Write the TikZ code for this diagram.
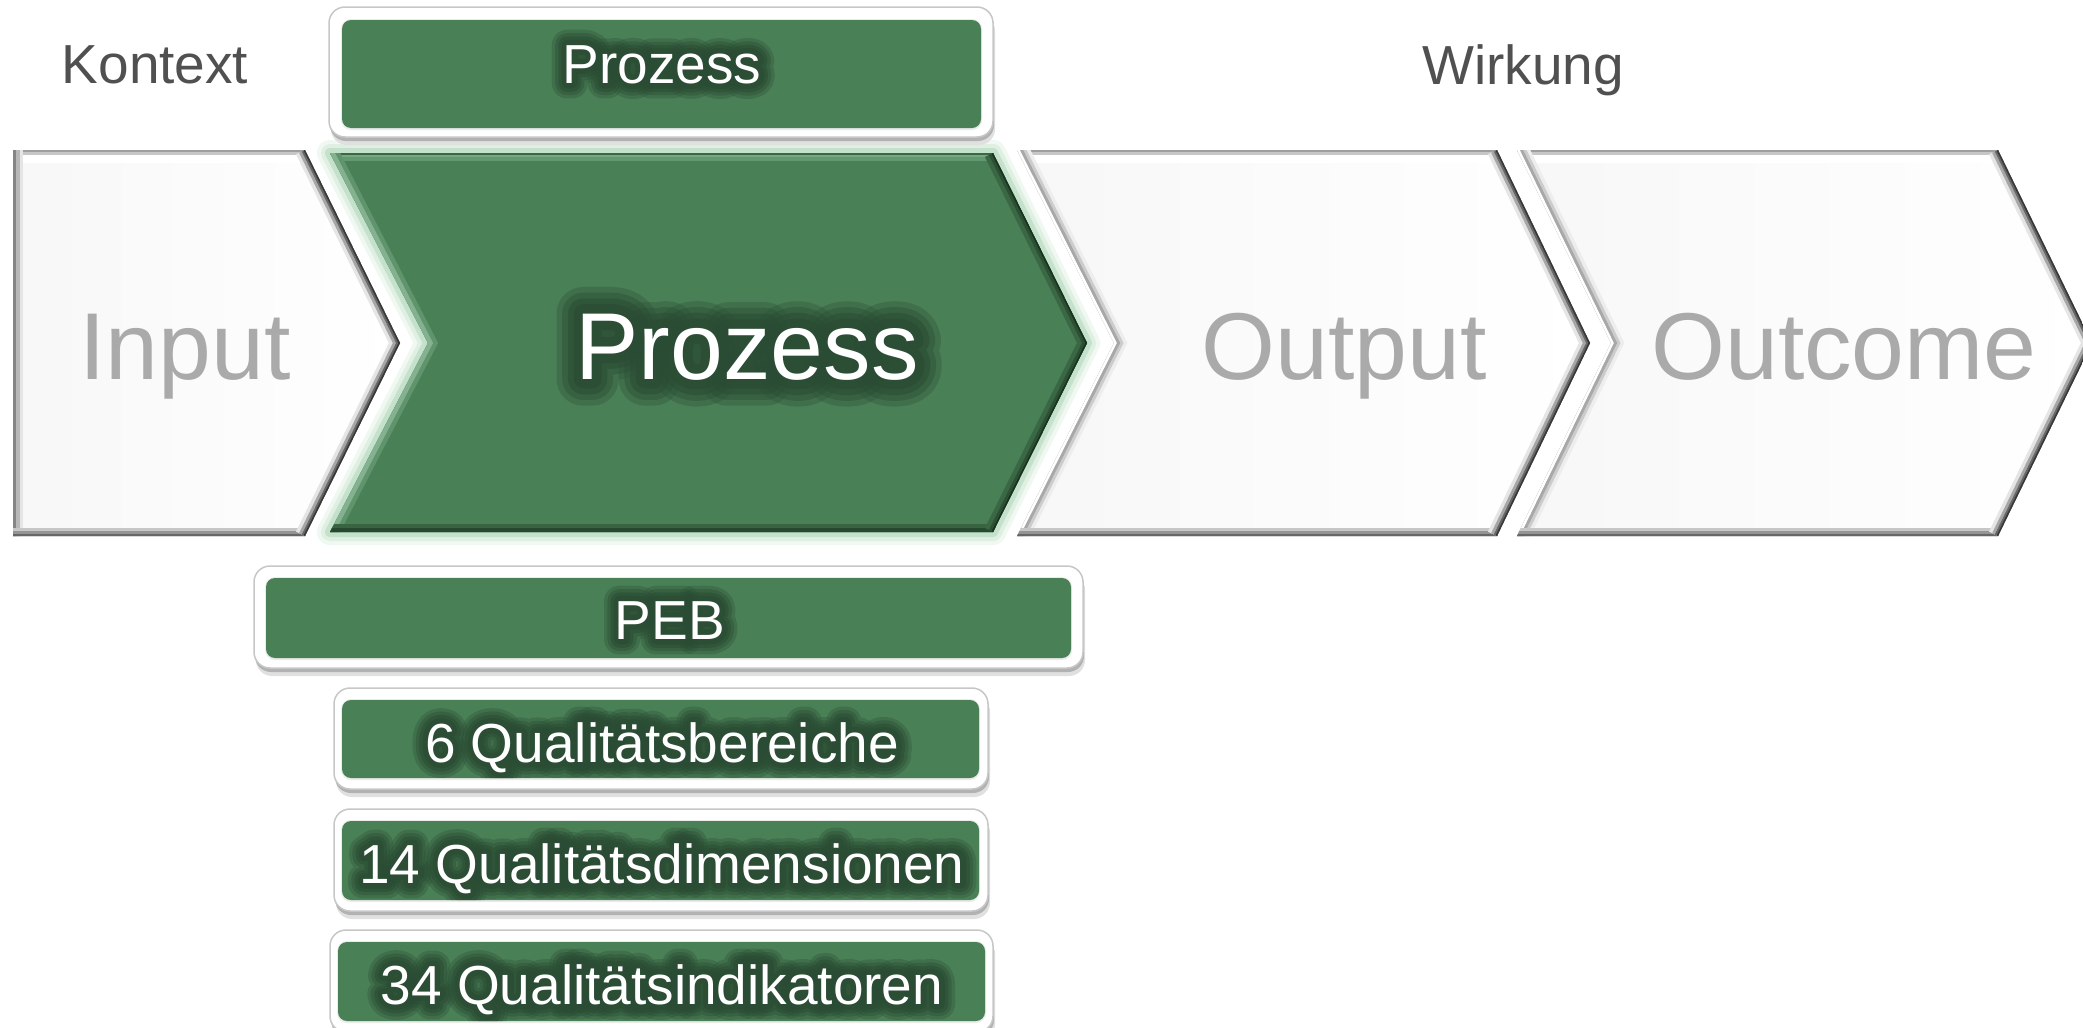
\documentclass[tikz,border=0pt]{standalone}
\usepackage{fontspec}
\setmainfont{Liberation Sans}
\newfontfamily\glowa[FakeBold=56]{Liberation Sans}
\newfontfamily\glowb[FakeBold=44]{Liberation Sans}
\newfontfamily\glowc[FakeBold=32]{Liberation Sans}
\newfontfamily\glowd[FakeBold=20]{Liberation Sans}
\usetikzlibrary{calc}
\definecolor{pgreen}{RGB}{74,128,86}
\definecolor{dgreen}{RGB}{38,72,46}
\definecolor{glowcol}{RGB}{42,76,52}
\definecolor{lgreen}{RGB}{118,168,130}
\definecolor{halo}{RGB}{196,226,203}
\definecolor{ktext}{RGB}{80,80,80}
\definecolor{ftext}{RGB}{170,170,170}
\tikzset{
  smallf/.style={font=\fontsize{55}{60}\selectfont},
  bigf/.style={font=\fontsize{95}{100}\selectfont},
  lbl/.style={anchor=base, inner sep=0pt},
  framebox/.style={fill=white, draw=black!22, line width=1.5pt, rounded corners=16pt},
  greenbox/.style={fill=pgreen, rounded corners=9pt},
  chevfill/.style={left color=black!3, right color=white},
}
\newcommand\roundj{\special{pdf:literal direct 1 j 1 J}}
% name, x, baseline, font size, text
\newcommand\glowlabel[5]{%
  \node[lbl, text=glowcol, opacity=0.3, font=\glowa\fontsize{#4}{#4}\selectfont] at (#2,#3) {\roundj#5};
  \node[lbl, text=glowcol, opacity=0.4, font=\glowb\fontsize{#4}{#4}\selectfont] at (#2,#3) {\roundj#5};
  \node[lbl, text=glowcol, opacity=0.5, font=\glowc\fontsize{#4}{#4}\selectfont] at (#2,#3) {\roundj#5};
  \node[lbl, text=glowcol, opacity=0.7, font=\glowd\fontsize{#4}{#4}\selectfont] at (#2,#3) {\roundj#5};
  \node[lbl, text=white, font=\fontsize{#4}{#4}\selectfont] (#1) at (#2,#3) {#5};
}
% outer x1 y1 x2 y2, inner x1 y1 x2 y2, then name, text x, baseline, text
\newcommand\framed[8]{%
  \fill[black!12, rounded corners=16pt] (#1+2,#2+8) rectangle (#3+2,#4+8);
  \fill[black!30, rounded corners=16pt] (#1+1,#2+4) rectangle (#3+1,#4+4);
  \path[framebox] (#1,#2) rectangle (#3,#4);
  \fill[black!8, rounded corners=10pt] (#5-1,#6-1) rectangle (#7+1,#8+2);
  \path[greenbox] (#5,#6) rectangle (#7,#8);
  \def\ix{#5}\def\iy{#6}\def\iX{#7}\def\iY{#8}%
  \framedtext
}
\newcommand\framedtext[4]{%
  \begin{scope}
    \clip[rounded corners=9pt] (\ix,\iy) rectangle (\iX,\iY);
    \glowlabel{#1}{#2}{#3}{55}{#4}
  \end{scope}
}
\newcommand\whitechev[6]{% x_left, x_notch, x_right, x_tip, isfirst(0/1), name
  \ifnum#5=1
    \def\chevpath{(#1,150) -- (#3,150) -- (#4,343) -- (#3,536) -- (#1,536) -- cycle}
  \else
    \def\chevpath{(#1,150) -- (#3,150) -- (#4,343) -- (#3,536) -- (#1,536) -- (#2,343) -- cycle}
  \fi
  \shade[chevfill] \chevpath;
  \begin{scope}
    \clip \chevpath;
    \draw[line width=26pt, white] (#1-20,150) -- (#3+20,150);
    \draw[line width=9pt, black!22] (#1-20,150) -- (#3+20,150);
    \draw[line width=4pt, black!38] (#1-20,150) -- (#3+20,150);
    \ifnum#5=1
      \draw[line width=20pt, black!10] (#1,140) -- (#1,546);
      \draw[line width=13pt, black!28] (#1,140) -- (#1,546);
      \draw[line width=6pt, black!48] (#1,140) -- (#1,546);
    \else
      \draw[line width=24pt, black!7] (#1,150) -- (#2,343) -- (#1,536);
      \draw[line width=17pt, black!20] (#1,150) -- (#2,343) -- (#1,536);
      \draw[line width=11pt, black!34] (#1,150) -- (#2,343) -- (#1,536);
      \draw[line width=5pt, white] (#1,150) -- (#2,343) -- (#1,536);
    \fi
    \draw[line width=16pt, black!22] (#1-20,536) -- (#3+20,536);
    \draw[line width=10pt, black!42] (#1-20,536) -- (#3+20,536);
    \draw[line width=4pt, black!60] (#1-20,536) -- (#3+20,536);
    \draw[line width=20pt, black!10] (#3,150) -- (#4,343) -- (#3,536);
    \draw[line width=13pt, black!35] (#3,150) -- (#4,343) -- (#3,536);
    \draw[line width=7pt, black!60] (#3,150) -- (#4,343) -- (#3,536);
    \draw[line width=3pt, black!78] (#3,150) -- (#4,343) -- (#3,536);
  \end{scope}
  \coordinate (#6) at ($(#2,343)!0.5!(#4,343)$);
}
\begin{document}
\begin{tikzpicture}[x=1pt,y=-1pt]
\path[use as bounding box] (0,0) rectangle (2083,1028);
\clip (0,0) rectangle (2083,1028);
\fill[white] (0,0) rectangle (2083,1028);

% ---------- white chevrons ----------
\whitechev{13}{13}{305}{400}{1}{inputchev}
\whitechev{1017}{1114}{1497}{1590}{0}{outputchev}
\whitechev{1517}{1611}{1998}{2092}{0}{outcomechev}

% ---------- green chevron ----------
\def\gpath{(330,153) -- (993,153) -- (1087,343) -- (993,532) -- (330,532) -- (428,343) -- cycle}
\draw[line width=26pt, halo!25!white, line join=round] \gpath;
\draw[line width=18pt, halo!55!white, line join=round] \gpath;
\draw[line width=10pt, halo, line join=round] \gpath;
\fill[pgreen] \gpath;
\begin{scope}
  \clip \gpath;
  \draw[line width=16pt, lgreen!60!pgreen] (310,153) -- (1010,153);
  \draw[line width=8pt, lgreen] (310,153) -- (1010,153);
  \draw[line width=3pt, pgreen!80!black] (310,153) -- (1010,153);
  \draw[line width=18pt, lgreen!50!pgreen] (330,153) -- (428,343) -- (330,532);
  \draw[line width=9pt, lgreen!90!white] (330,153) -- (428,343) -- (330,532);
  \draw[line width=16pt, dgreen!50!pgreen] (310,532) -- (1010,532);
  \draw[line width=8pt, dgreen] (310,532) -- (1010,532);
  \draw[line width=18pt, dgreen!45!pgreen] (993,153) -- (1087,343) -- (993,532);
  \draw[line width=9pt, dgreen!85!pgreen] (993,153) -- (1087,343) -- (993,532);
  \draw[line width=3pt, dgreen!70!black] (993,153) -- (1087,343) -- (993,532);
\end{scope}
\coordinate (prozchev) at (747,343);

% ---------- green boxes with labels ----------
\framed{329}{7}{993}{137}{342}{20}{981}{128}{prozesstop}{662}{83}{Prozess}
\framed{254}{566}{1083}{668}{266}{578}{1071}{658}{peb}{670}{639}{PEB}
\framed{334}{688}{988}{789}{342}{700}{979}{778}{qb}{662}{762}{6 Qualitätsbereiche}
\framed{334}{809}{988}{911}{342}{821}{979}{900}{qd}{662}{883}{14 Qualitätsdimensionen}
\framed{330}{930}{993}{1032}{338}{942}{985}{1021}{qi}{662}{1004}{34 Qualitätsindikatoren}

% ---------- texts ----------
\node[smallf, lbl, text=ktext] (kontext) at (155,83) {Kontext};
\node[smallf, lbl, text=ktext] (wirkung) at (1523,84) {Wirkung};
\node[bigf, lbl, text=ftext] (input) at (185,379) {Input};
\node[bigf, lbl, text=ftext] (output) at (1344,379) {Output};
\node[bigf, lbl, text=ftext] (outcome) at (1844,379) {Outcome};
\glowlabel{prozessbig}{747}{379}{95}{Prozess}
\end{tikzpicture}
\end{document}
